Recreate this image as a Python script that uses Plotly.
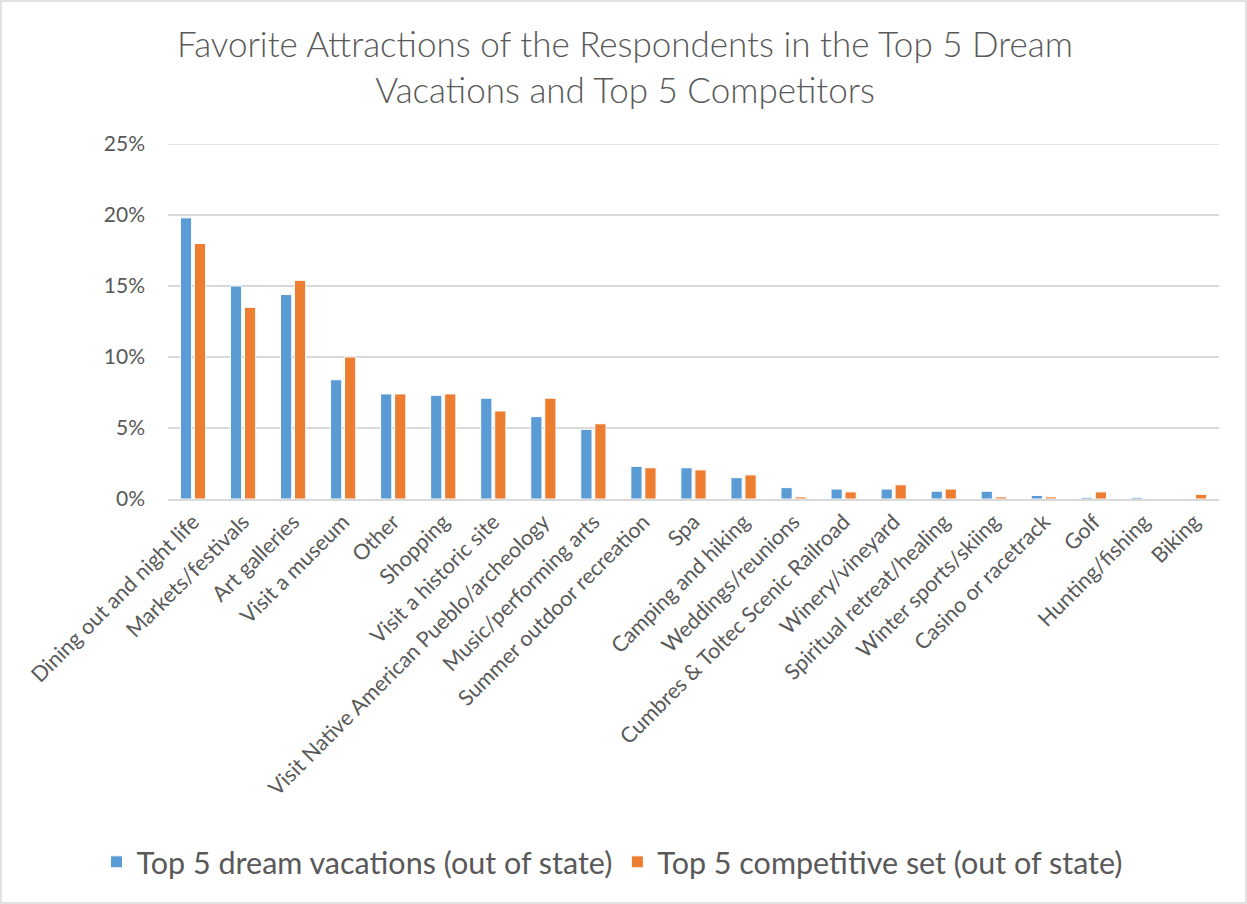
import plotly.graph_objects as go

categories = [
    "Dining out and night life", "Markets/festivals", "Art galleries", "Visit a museum",
    "Other", "Shopping", "Visit a historic site", "Visit Native American Pueblo/archeology",
    "Music/performing arts", "Summer outdoor recreation", "Spa", "Camping and hiking",
    "Weddings/reunions", "Cumbres & Toltec Scenic Railroad", "Winery/vineyard",
    "Spiritual retreat/healing", "Winter sports/skiing", "Casino or racetrack", "Golf",
    "Hunting/fishing", "Biking",
]
dream_vacations = [19.8, 15.0, 14.4, 8.4, 7.4, 7.3, 7.1, 5.8, 4.9, 2.3, 2.2, 1.5,
                   0.8, 0.7, 0.7, 0.55, 0.55, 0.25, 0.12, 0.12, 0.0]
competitive_set = [18.0, 13.5, 15.4, 10.0, 7.4, 7.4, 6.2, 7.1, 5.3, 2.2, 2.05, 1.7,
                   0.15, 0.5, 1.0, 0.7, 0.15, 0.15, 0.5, 0.0, 0.33]
y_ticks = [0, 5, 10, 15, 20, 25]
y_tick_labels = [f"{v}%" for v in y_ticks]

W, H = 1247, 904
L, R, T, B = 168, 28, 144, 405
TEXT = "#595959"
GRID = "#D9D9D9"
FONT = "Lato"

fig = go.Figure()
fig.add_trace(go.Bar(
    x=categories, y=dream_vacations, name="Top 5 dream vacations (out of state)",
    marker=dict(color="#5B9BD5", line=dict(color="white", width=1)),
))
fig.add_trace(go.Bar(
    x=categories, y=competitive_set, name="Top 5 competitive set (out of state)",
    marker=dict(color="#ED7D31", line=dict(color="white", width=1)),
))

pw, ph = W - L - R, H - T - B
# light frame around the whole chart
fig.add_shape(type="rect", xref="paper", yref="paper",
              x0=-(L - 1) / pw, x1=(pw + R - 1) / pw,
              y0=-(B - 1) / ph, y1=(ph + T - 1) / ph,
              line=dict(color=GRID, width=1.5), layer="below")
# top gridline sits on the edge of the plot area
fig.add_shape(type="line", xref="paper", yref="y", x0=0, x1=1,
              y0=y_ticks[-1], y1=y_ticks[-1],
              line=dict(color=GRID, width=1.5), layer="below")

fig.update_layout(
    width=W, height=H,
    margin=dict(l=L, r=R, t=T, b=B, autoexpand=False),
    paper_bgcolor="white", plot_bgcolor="white",
    font=dict(family=FONT, color=TEXT),
    title=dict(
        text="Favorite Attractions of the Respondents in the Top 5 Dream<br>Vacations and Top 5 Competitors",
        x=625 / W, xanchor="center", y=1 - 57 / H, yanchor="middle",
        font=dict(family=FONT, size=35, color=TEXT, weight=300),
    ),
    barmode="group", bargap=0.44, bargroupgap=0.2,
    showlegend=True,
    legend=dict(
        orientation="h", x=(612 - L) / pw, xanchor="center",
        y=-(862 - (H - B)) / ph, yanchor="middle",
        font=dict(family=FONT, size=30.5, color=TEXT),
        itemwidth=30, traceorder="normal",
    ),
)
fig.update_xaxes(
    tickangle=-45, tickfont=dict(family=FONT, size=21.5, color=TEXT),
    showgrid=False, showline=True, linecolor=GRID, linewidth=1.5,
    ticks="", automargin=False,
)
fig.update_yaxes(
    range=[0, 25], tickmode="array", tickvals=y_ticks, ticktext=y_tick_labels,
    tickfont=dict(family=FONT, size=21, color=TEXT),
    showgrid=True, gridcolor=GRID, gridwidth=1.5,
    zeroline=False, showline=False, ticks="", ticklabelstandoff=22,
    automargin=False,
)

fig.write_html("out.html")
